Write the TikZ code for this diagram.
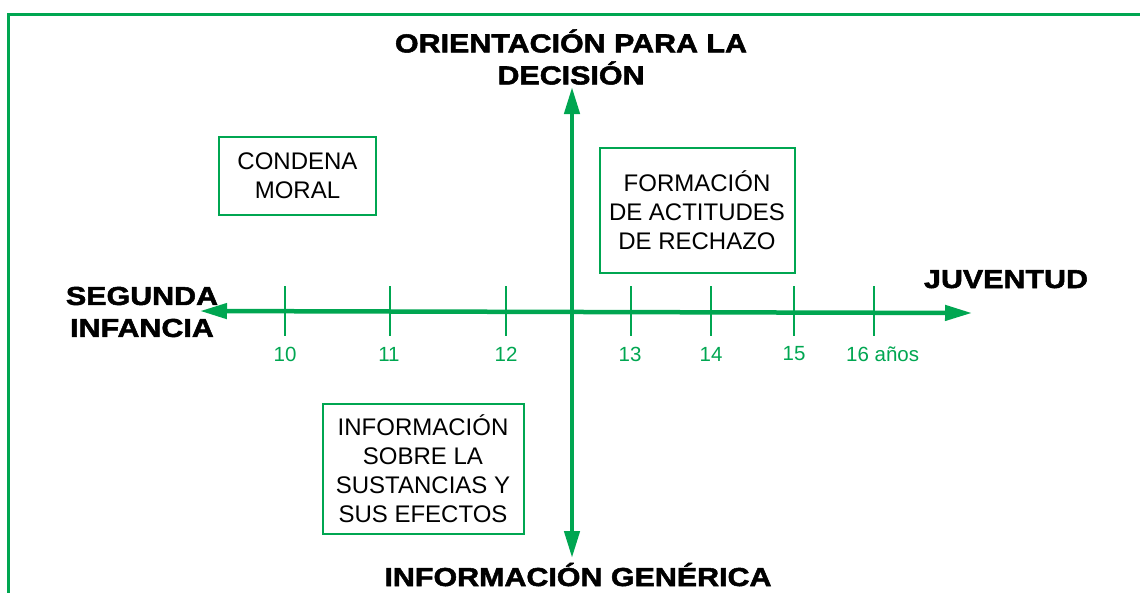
\documentclass[tikz,border=0pt]{standalone}
\usepackage{fontspec}
\setmainfont{Liberation Sans}
\newfontfamily\headfont[FakeStretch=1.17,FakeBold=2]{Liberation Sans}
\usetikzlibrary{arrows.meta,positioning}
\definecolor{verde}{HTML}{00A651}

\begin{document}
\begin{tikzpicture}[x=1pt,y=-1pt,
    eje/.style={draw=verde,line width=4.5pt,{Triangle[length=27pt,width=15pt]}-{Triangle[length=27pt,width=15pt]}},
    marca/.style={draw=verde,line width=2.5pt},
    edad/.style={text=verde,font=\fontsize{20.5}{22}\selectfont,inner sep=0pt},
    caja/.style={draw=verde,line width=2pt,align=center,inner sep=0pt,font=\fontsize{24}{29}\selectfont},
    titulo/.style={align=center,inner sep=0pt,font=\headfont\bfseries\fontsize{26}{32}\selectfont}]
  \useasboundingbox (0,0) rectangle (1140,592);
  \clip (0,0) rectangle (1140,592);

  % marco
  \draw[verde,line width=2.5pt] (8.7,620) |- (1160,14.7);

  % ejes
  \coordinate (oeste) at (200,311);
  \coordinate (este) at (972,313);
  \coordinate (norte) at (572,87);
  \coordinate (sur) at (572,558);
  \draw[eje] (oeste) -- (este);
  \draw[eje] (sur) -- (norte);

  % edades
  \foreach \x in {285,390,506,631,711,794,874}
    \draw[marca] (\x,286) -- (\x,336);
  \foreach \x/\a in {285/10,389/11,506/12,630/13,711/14,794/15}
    \node[edad] (e\a) at (\x,354) {\a};
  \node[edad,anchor=west] (e16) at (846,354) {16 años};

  % titulos
  \node[titulo] (orient) at (571,57) {ORIENTACIÓN PARA LA\\DECISIÓN};
  \node[titulo] (infan) at (142,312) {SEGUNDA\\INFANCIA};
  \node[titulo,anchor=base] (juv) at (1006,288) {JUVENTUD};
  \node[titulo,anchor=base] (infgen) at (578,586) {INFORMACIÓN GENÉRICA};

  % cajas
  \node[caja,minimum width=157pt,minimum height=78pt] (condena) at (297.5,176) {CONDENA\\MORAL};
  \node[caja,minimum width=195pt,minimum height=125pt] (formacion) at (697,210.5) {FORMACIÓN\\DE ACTITUDES\\DE RECHAZO};
  \node[caja,minimum width=201pt,minimum height=130pt] (informacion) at (423,469) {INFORMACIÓN\\SOBRE LA\\SUSTANCIAS Y\\SUS EFECTOS};
\end{tikzpicture}
\end{document}
